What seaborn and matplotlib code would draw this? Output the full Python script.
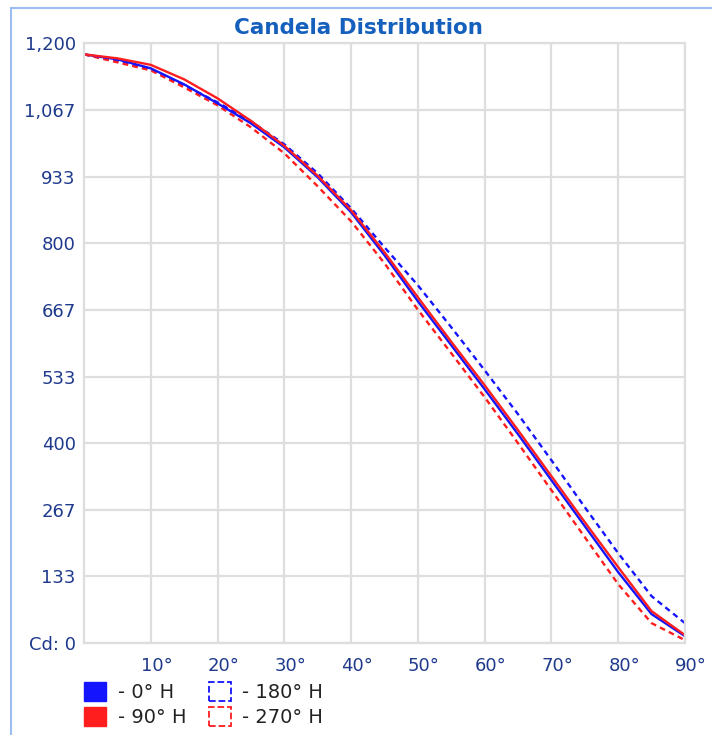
import numpy as np
import pandas as pd
import seaborn as sns
import matplotlib.pyplot as plt
import matplotlib.transforms as mtransforms
from matplotlib.patches import Patch
from matplotlib.lines import Line2D

angles = [0, 5, 10, 15, 20, 25, 30, 35, 40, 45, 50, 55, 60, 65, 70, 75, 80, 85, 90]

cd_0h = [1178, 1168, 1150, 1118, 1080, 1040, 992, 932, 862, 776, 684, 596, 508, 418, 326, 234, 142, 58, 14]
cd_90h = [1178, 1170, 1157, 1128, 1090, 1045, 995, 935, 866, 782, 692, 603, 516, 426, 334, 242, 152, 64, 16]
cd_180h = [1178, 1165, 1148, 1116, 1082, 1044, 998, 940, 870, 792, 716, 632, 546, 458, 366, 272, 180, 94, 40]
cd_270h = [1178, 1162, 1146, 1112, 1076, 1032, 980, 914, 844, 760, 667, 580, 492, 400, 306, 212, 118, 40, 6]

series_names = ['- 0° H', '- 90° H', '- 180° H', '- 270° H']
y_ticks = [0, 133.33, 266.67, 400, 533.33, 666.67, 800, 933.33, 1066.67, 1200]
y_labels = ['Cd: 0', '133', '267', '400', '533', '667', '800', '933', '1,067', '1,200']
x_ticks = [10, 20, 30, 40, 50, 60, 70, 80, 90]
x_labels = ['10°', '20°', '30°', '40°', '50°', '60°', '70°', '80°', '90°']

df = pd.DataFrame({
    'angle': angles * 4,
    'cd': cd_180h + cd_270h + cd_0h + cd_90h,
    'series': [series_names[2]] * 19 + [series_names[3]] * 19 + [series_names[0]] * 19 + [series_names[1]] * 19,
})

blue = '#1414ff'
red = '#ff1e1e'
palette = {series_names[0]: blue, series_names[1]: red, series_names[2]: blue, series_names[3]: red}
dashes = {series_names[0]: '', series_names[1]: '', series_names[2]: (2.4, 1.8), series_names[3]: (2.4, 1.8)}

sns.set_style('white')
plt.rcParams['font.family'] = ['DejaVu Sans']

fig = plt.figure(figsize=(7.12, 7.35), dpi=100)
ax = fig.add_axes([0.118, 0.125, 0.844, 0.816])

sns.lineplot(data=df, x='angle', y='cd', hue='series', style='series', palette=palette,
             dashes=dashes, linewidth=1.7, legend=False, ax=ax, sort=False)

ax.set_xlim(0, 90)
ax.set_ylim(0, 1200)
ax.set_xticks(x_ticks)
ax.set_xticklabels(x_labels)
ax.set_yticks(y_ticks)
ax.set_yticklabels(y_labels)
ax.set_xlabel('')
ax.set_ylabel('')
ax.grid(True, color='#dedede', linewidth=1.6)
ax.set_axisbelow(True)
for s in ax.spines.values():
    s.set_color('#dedede')
    s.set_linewidth(1.6)
ax.tick_params(axis='both', length=0, labelsize=13, labelcolor='#1f3a8c')
ax.tick_params(axis='x', pad=10)
ax.tick_params(axis='y', pad=6)

# x labels sit a little right of their gridlines
shift = mtransforms.ScaledTranslation(6 / 100, 0, fig.dpi_scale_trans)
for lbl in ax.get_xticklabels():
    lbl.set_transform(lbl.get_transform() + shift)

fig.text(0.504, 0.962, 'Candela Distribution', ha='center', va='center',
         fontsize=15.5, fontweight='bold', color='#1560bd')

handles = [
    Patch(facecolor=blue, edgecolor=blue),
    Patch(facecolor=red, edgecolor=red),
    Patch(facecolor='none', edgecolor=blue, linestyle='--', linewidth=1.3),
    Patch(facecolor='none', edgecolor=red, linestyle='--', linewidth=1.3),
]
fig.legend(handles, series_names, loc='upper left', bbox_to_anchor=(0.105, 0.085), ncol=2,
           frameon=False, fontsize=14, handlelength=1.1, handleheight=1.1, handletextpad=0.6,
           columnspacing=1.2, labelspacing=0.25, borderpad=0, labelcolor='#222222')

# thin light-blue frame on the left and top edges
fig.add_artist(Line2D([0.015, 0.015], [0, 0.989], color='#9dbcf2', linewidth=1.5))
fig.add_artist(Line2D([0.015, 1.0], [0.989, 0.989], color='#9dbcf2', linewidth=1.5))

fig.savefig('out.png', dpi=100)
